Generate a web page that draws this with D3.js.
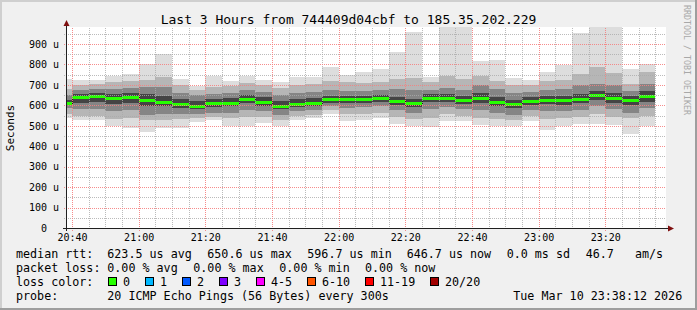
<!DOCTYPE html>
<html>
<head>
<meta charset="utf-8">
<script src="https://cdn.jsdelivr.net/npm/d3@7"></script>
<style>
html, body { margin: 0; padding: 0; background: #f0f0f0; }
svg { display: block; }
text { font-family: "DejaVu Sans Mono", monospace; fill: #000; }
</style>
</head>
<body>
<div id="chart"></div>
<script>
// smokeping style: 36 steps of 300s, values in microseconds
const medianUs = [613, 641, 646, 634, 641, 624, 618, 607, 598, 610, 614, 631,
                  616, 597, 607, 613, 629, 629, 631, 634, 619, 610, 637, 637,
                  624, 634, 618, 605, 623, 628, 624, 631, 651, 636, 624, 647];
const pingMin = [540, 530, 527, 500, 487, 468, 487, 490, 517, 527, 500, 500,
                 513, 497, 530, 536, 560, 522, 530, 536, 510, 497, 494, 525,
                 522, 505, 500, 500, 522, 478, 500, 507, 510, 505, 461, 500];
const pingMax = [729, 726, 722, 745, 755, 804, 849, 729, 696, 742, 720, 742,
                 726, 716, 740, 740, 789, 750, 763, 779, 861, 957, 740, 990,
                 990, 818, 823, 735, 725, 761, 796, 954, 990, 990, 779, 804];
const smokeHi2 = [680, 700, 705, 715, 720, 725, 740, 700, 675, 690, 695, 710,
                  700, 685, 700, 705, 720, 715, 710, 715, 730, 735, 715, 745,
                  730, 745, 720, 700, 700, 720, 725, 755, 790, 758, 705, 765];
const smokeLo2 = [560, 550, 548, 535, 540, 530, 530, 535, 540, 545, 540, 545,
                  545, 530, 550, 555, 575, 560, 560, 565, 545, 535, 540, 560,
                  550, 540, 535, 530, 550, 535, 540, 545, 560, 545, 540, 550];
const smokeHi3 = [650, 675, 680, 680, 685, 690, 690, 660, 650, 655, 660, 675,
                  665, 650, 660, 665, 675, 670, 670, 675, 680, 675, 675, 685,
                  675, 700, 680, 660, 665, 675, 680, 700, 705, 700, 670, 705];
const smokeLo3 = [585, 580, 580, 570, 575, 555, 560, 560, 560, 565, 565, 575,
                  570, 555, 570, 575, 595, 585, 590, 595, 575, 565, 580, 590,
                  580, 575, 565, 555, 575, 570, 570, 575, 595, 580, 565, 585];
const smokeHi4 = [628, 655, 660, 655, 660, 655, 645, 630, 620, 630, 635, 650,
                  640, 620, 630, 635, 645, 645, 648, 650, 640, 630, 655, 655,
                  645, 660, 640, 625, 640, 645, 645, 655, 670, 660, 645, 670];
const smokeLo4 = [600, 610, 615, 605, 610, 595, 595, 585, 580, 590, 595, 610,
                  595, 580, 590, 595, 612, 610, 612, 615, 600, 590, 615, 615,
                  605, 610, 595, 585, 600, 605, 600, 610, 625, 612, 600, 615];
const smokeColors = ["#dddddd", "#b6b6b6", "#858585", "#444444"];

const lossLabels = ["0", "1", "2", "3", "4-5", "6-10", "11-19", "20/20"];
const lossColors = ["#26ff00", "#00b8ff", "#0059ff", "#7e00ff", "#ff00ff", "#ff5500", "#ff0000", "#a10000"];

const rttStats = ["623.5 us avg", "650.6 us max", "596.7 us min", "646.7 us now", "0.0 ms sd", "46.7   am/s"];
const lossStats = ["0.00 % avg", "0.00 % max", "0.00 % min", "0.00 % now"];

const W = 697, H = 310;
const plotL = 66, plotR = 666, plotT = 28, plotB = 228;
const t0 = new Date(2026, 2, 10, 20, 38, 12);
const t1 = new Date(2026, 2, 10, 23, 38, 12);
const barStart = d3.range(medianUs.length).map(i => new Date(2026, 2, 10, 20, 35 + 5 * i));

const x = d3.scaleTime().domain([t0, t1]).range([plotL, plotR]);
const y = d3.scaleLinear().domain([0, 978.5]).range([plotB, plotT]);
const px = d => Math.round(x(d));
const py = v => Math.round(y(v));

const svg = d3.select("#chart").append("svg")
    .attr("width", W)
    .attr("height", H);

// dotted grid patterns (1px on, 1px off)
const defs = svg.append("defs");
const gridMinor = "rgba(170,170,170,0.8)";
const gridMajor = "rgba(245,128,128,0.9)";
[["minV", gridMinor, 1, 2], ["minH", gridMinor, 2, 1], ["majV", gridMajor, 1, 2], ["majH", gridMajor, 2, 1]]
    .forEach(([id, col, w, h]) => {
        defs.append("pattern").attr("id", id)
            .attr("patternUnits", "userSpaceOnUse")
            .attr("width", w).attr("height", h)
            .append("rect").attr("width", 1).attr("height", 1).attr("fill", col);
    });

// background and frame shade
svg.append("rect").attr("width", W).attr("height", H).attr("fill", "#f0f0f0");
svg.append("path").attr("d", `M0,0H${W}V2H2V${H}H0Z`).attr("fill", "#cfcfcf");
svg.append("path").attr("d", `M${W},${H}H0V${H - 2}H${W - 2}V0H${W}Z`).attr("fill", "#9e9e9e");

svg.append("rect")
    .attr("x", plotL).attr("y", plotT - 1)
    .attr("width", plotR - plotL).attr("height", plotB - plotT + 1)
    .attr("fill", "#fff");

svg.append("clipPath").attr("id", "plotclip")
    .append("rect")
    .attr("x", plotL).attr("y", plotT - 1)
    .attr("width", plotR - plotL).attr("height", plotB - plotT + 1);

const plot = svg.append("g").attr("clip-path", "url(#plotclip)")
    .attr("shape-rendering", "crispEdges");

// smoke
const bands = [[pingMin, pingMax], [smokeLo2, smokeHi2], [smokeLo3, smokeHi3], [smokeLo4, smokeHi4]];
bands.forEach(([lo, hi], k) => {
    plot.append("g").selectAll("rect")
        .data(barStart)
        .enter().append("rect")
        .attr("x", d => px(d))
        .attr("width", d => px(d3.timeMinute.offset(d, 5)) - px(d))
        .attr("y", (d, i) => py(hi[i]))
        .attr("height", (d, i) => py(lo[i]) - py(hi[i]))
        .attr("fill", smokeColors[k]);
});

// median: dark step line then loss colour band
const medPts = [];
barStart.forEach((d, i) => {
    medPts.push([px(d), py(medianUs[i]) + 0.5]);
    medPts.push([px(d3.timeMinute.offset(d, 5)), py(medianUs[i]) + 0.5]);
});
plot.append("path")
    .attr("d", d3.line()(medPts))
    .attr("fill", "none")
    .attr("stroke", "#202020")
    .attr("stroke-width", 1);

plot.append("g").selectAll("rect")
    .data(barStart)
    .enter().append("rect")
    .attr("x", d => px(d))
    .attr("width", d => px(d3.timeMinute.offset(d, 5)) - px(d))
    .attr("y", (d, i) => py(medianUs[i]) - 1)
    .attr("height", 3)
    .attr("fill", lossColors[0]);

// grid on top
const grid = svg.append("g").attr("shape-rendering", "crispEdges");
const minorX = d3.timeMinute.every(5).range(t0, t1).filter(d => d.getMinutes() % 20 !== 0);
const majorX = d3.timeMinute.every(20).range(t0, t1);
const minorY = d3.range(50, 1000, 100);
const majorY = d3.range(100, 1000, 100);

function vgrid(xs, pat, ext) {
    grid.append("g").selectAll("rect").data(xs).enter().append("rect")
        .attr("x", d => px(d)).attr("width", 1)
        .attr("y", plotT).attr("height", plotB - plotT + ext)
        .attr("fill", `url(#${pat})`);
}
function hgrid(vs, pat, ext) {
    grid.append("g").selectAll("rect").data(vs).enter().append("rect")
        .attr("y", d => py(d)).attr("height", 1)
        .attr("x", plotL - ext).attr("width", plotR - plotL + ext)
        .attr("fill", `url(#${pat})`);
}
vgrid(minorX, "minV", 2);
hgrid(minorY, "minH", 2);
vgrid(majorX, "majV", 3);
hgrid(majorY, "majH", 3);

// axes lines + arrows
const axisCol = "#202020", arrowCol = "#7f1010";
svg.append("line").attr("x1", plotL + 0.5).attr("x2", plotL + 0.5)
    .attr("y1", plotB + 3).attr("y2", plotT - 5)
    .attr("stroke", axisCol).attr("shape-rendering", "crispEdges");
svg.append("line").attr("x1", plotL - 3).attr("x2", plotR + 3)
    .attr("y1", plotB + 0.5).attr("y2", plotB + 0.5)
    .attr("stroke", axisCol).attr("shape-rendering", "crispEdges");
svg.append("path")
    .attr("d", `M${plotL + 0.5},${plotT - 8}L${plotL + 3.5},${plotT - 2}L${plotL - 2.5},${plotT - 2}Z`)
    .attr("fill", arrowCol);
svg.append("path")
    .attr("d", `M${plotR + 8},${plotB + 0.5}L${plotR + 2},${plotB - 2.5}L${plotR + 2},${plotB + 3.5}Z`)
    .attr("fill", arrowCol);

// tick labels
const xAxis = d3.axisBottom(x)
    .ticks(d3.timeMinute.every(20))
    .tickFormat(d3.timeFormat("%H:%M"))
    .tickSize(0).tickPadding(6);
const gx = svg.append("g").attr("transform", `translate(0,${plotB})`).call(xAxis);
gx.select(".domain").remove();
gx.selectAll(".tick line").remove();
gx.attr("font-family", "DejaVu Sans Mono").attr("font-size", 10);
gx.selectAll("text").attr("fill", "#000");

const yAxis = d3.axisLeft(y)
    .tickValues(d3.range(0, 1000, 100))
    .tickFormat(v => v ? `${v} u` : "0")
    .tickSize(0).tickPadding(7);
const gy = svg.append("g").attr("transform", `translate(${plotL},0)`).call(yAxis);
gy.select(".domain").remove();
gy.selectAll(".tick line").remove();
gy.attr("font-family", "DejaVu Sans Mono").attr("font-size", 10);
gy.selectAll("text").attr("fill", "#000");
gy.selectAll(".tick").filter(d => d === 0).select("text").attr("dx", -12);

svg.append("text")
    .attr("transform", `translate(14,${(plotT + plotB) / 2}) rotate(-90)`)
    .attr("text-anchor", "middle")
    .attr("font-size", 11)
    .text("Seconds");

// title
svg.append("text")
    .attr("x", W / 2).attr("y", 24)
    .attr("text-anchor", "middle")
    .attr("font-size", 13)
    .text("Last 3 Hours from 744409d04cbf to 185.35.202.229");

// watermark
svg.append("text")
    .attr("transform", `translate(684,60) rotate(90)`)
    .attr("text-anchor", "middle")
    .attr("font-size", 8.3)
    .style("fill", "#a8a8a8")
    .text("RRDTOOL / TOBI OETIKER");

// legend
const lf = 11.7;
function txt(xp, yp, s) {
    return svg.append("text")
        .attr("x", xp).attr("y", yp)
        .attr("font-size", lf)
        .style("white-space", "pre")
        .text(s);
}
const rows = [258, 272, 286, 299.5];
txt(16, rows[0], "median rtt:");
[107.3, 207.3, 307.3, 406.7, 506.7, 585.7].forEach((xp, i) => txt(xp, rows[0], rttStats[i]));
txt(16, rows[1], "packet loss:");
[107.3, 193.3, 279.3, 365].forEach((xp, i) => txt(xp, rows[1], lossStats[i]));
txt(16, rows[2], "loss color:");
let lx = 108;
lossLabels.forEach((lab, i) => {
    svg.append("rect")
        .attr("x", lx + 0.5).attr("y", rows[2] - 8.5)
        .attr("width", 8).attr("height", 8)
        .attr("fill", lossColors[i])
        .attr("stroke", "#000").attr("stroke-width", 1)
        .attr("shape-rendering", "crispEdges");
    const t = txt(lx + 15, rows[2], lab);
    lx = Math.round(lx + 15 + t.node().getComputedTextLength() + 15.3);
});
txt(16, rows[3], "probe:");
txt(107.3, rows[3], "20 ICMP Echo Pings (56 Bytes) every 300s");
txt(513.3, rows[3], "Tue Mar 10 23:38:12 2026");
</script>
</body>
</html>
